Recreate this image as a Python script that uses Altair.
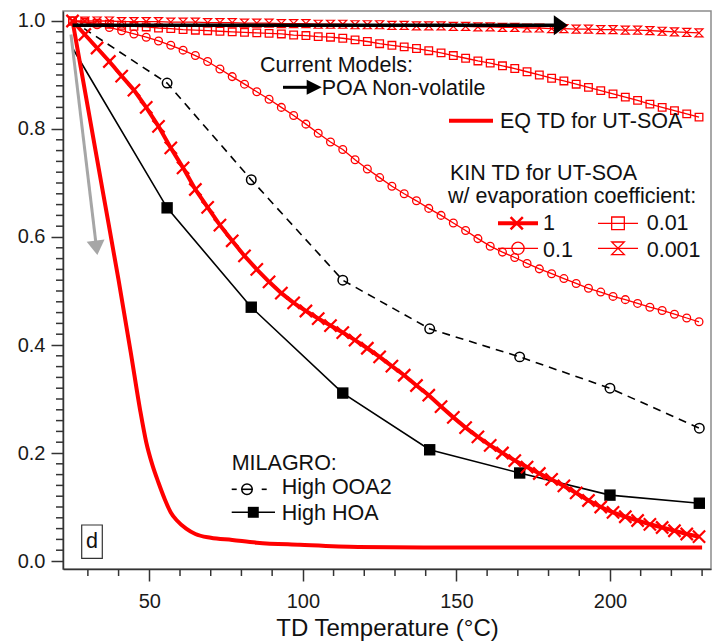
import altair as alt
import pandas as pd

# ---------------- data ----------------
kin_T = [25, 29, 33, 37, 41, 45, 49, 53, 57, 61, 65, 69, 73, 77, 81, 85, 89, 93, 97, 101,
         105, 109, 113, 117, 121, 125, 129, 133, 137, 141, 145, 149, 153, 157, 161, 165,
         169, 173, 177, 181, 185, 189, 193, 197, 201, 205, 209, 213, 217, 221, 225, 229]

kin_a1 = [1.0, 0.975, 0.95, 0.925, 0.898, 0.872, 0.84, 0.805, 0.765, 0.728, 0.688, 0.655,
          0.622, 0.593, 0.565, 0.54, 0.517, 0.496, 0.478, 0.463, 0.449, 0.436, 0.423, 0.409,
          0.394, 0.378, 0.361, 0.344, 0.325, 0.307, 0.286, 0.266, 0.247, 0.23, 0.214, 0.2,
          0.186, 0.174, 0.162, 0.151, 0.139, 0.126, 0.112, 0.1, 0.09, 0.082, 0.075, 0.068,
          0.062, 0.056, 0.05, 0.045]

kin_a01 = [1.0, 0.997, 0.993, 0.988, 0.982, 0.976, 0.97, 0.963, 0.955, 0.946, 0.936, 0.925,
           0.911, 0.897, 0.883, 0.869, 0.855, 0.84, 0.825, 0.809, 0.792, 0.776, 0.762, 0.743,
           0.726, 0.71, 0.694, 0.68, 0.667, 0.653, 0.64, 0.626, 0.612, 0.597, 0.583, 0.572,
           0.562, 0.551, 0.541, 0.532, 0.523, 0.514, 0.505, 0.498, 0.49, 0.484, 0.477, 0.47,
           0.464, 0.457, 0.45, 0.443]

kin_a001 = [1.0, 0.998, 0.996, 0.994, 0.992, 0.99, 0.989, 0.987, 0.986, 0.984, 0.983, 0.982,
            0.981, 0.98, 0.979, 0.978, 0.977, 0.976, 0.974, 0.973, 0.971, 0.97, 0.968, 0.965,
            0.962, 0.958, 0.955, 0.952, 0.949, 0.945, 0.941, 0.936, 0.931, 0.926, 0.922, 0.917,
            0.912, 0.906, 0.9, 0.894, 0.889, 0.883, 0.877, 0.871, 0.865, 0.859, 0.853, 0.846,
            0.84, 0.834, 0.828, 0.822]

kin_a0001 = [1.0, 1.0, 1.0, 1.0, 0.999, 0.999, 0.999, 0.999, 0.998, 0.998, 0.998, 0.997,
             0.997, 0.997, 0.996, 0.996, 0.996, 0.995, 0.995, 0.995, 0.994, 0.994, 0.994, 0.993,
             0.993, 0.993, 0.992, 0.992, 0.991, 0.991, 0.991, 0.99, 0.99, 0.989, 0.989, 0.988,
             0.988, 0.987, 0.987, 0.986, 0.986, 0.985, 0.985, 0.984, 0.984, 0.983, 0.983, 0.982,
             0.981, 0.98, 0.979, 0.978]

eq_T = [25, 30, 35, 40, 44, 47, 49, 51, 53, 55, 57, 59, 62, 65, 70, 77, 85, 99, 118, 150, 200, 230]
eq_y = [1.0, 0.84, 0.68, 0.52, 0.385, 0.28, 0.22, 0.178, 0.145, 0.115, 0.09, 0.075, 0.06,
        0.05, 0.043, 0.039, 0.034, 0.03, 0.026, 0.025, 0.025, 0.025]

mil_T = [25, 55.8, 83.2, 113.0, 141.3, 170.6, 200.0, 229.1]
ooa2_y = [1.0, 0.885, 0.706, 0.520, 0.430, 0.378, 0.320, 0.246]
hoa_y = [0.95, 0.654, 0.470, 0.311, 0.206, 0.163, 0.122, 0.107]

poa_T = [25, 184]
poa_y = [0.992, 0.992]
gray_T = [24.5, 32.8]
gray_y = [0.975, 0.58]

x_major = [50, 100, 150, 200]
x_minor = [30, 40, 60, 70, 80, 90, 110, 120, 130, 140, 160, 170, 180, 190, 210, 220, 230]
y_major = [0.0, 0.2, 0.4, 0.6, 0.8, 1.0]
y_minor = [round(0.02 * i, 2) for i in range(1, 50) if i % 10 != 0]

# ---------------- styling ----------------
FONT = "Liberation Sans"
RED = "#ff0000"
W, H = 648, 558
TS = 21.5

X_SHAPE = "M-1,-1L1,1M-1,1L1,-1"
HOURGLASS = "M-1,-1L1,-1L-1,1L1,1Z"
TRI_RIGHT = "M-1,-1L1,0L-1,1Z"
TRI_RIGHT_LONG = "M-0.7,-1L0.7,0L-0.7,1Z"
TRI_DOWN = "M-1,-0.8L1,-0.8L0,0.8Z"

xs = alt.Scale(domain=[21.9, 232.9], nice=False, zero=False)
ys = alt.Scale(domain=[-0.0148, 1.0185], nice=False, zero=False)
xaxis = alt.Axis(values=x_major, format="d", tickSize=12, labelPadding=10,
                 title="TD Temperature (°C)", titleY=66, titleBaseline="alphabetic")
yaxis = alt.Axis(values=y_major, format=".1f", tickSize=12, labelPadding=6, title="")
X = alt.X("x:Q", scale=xs, axis=xaxis)
Y = alt.Y("y:Q", scale=ys, axis=yaxis)

one = pd.DataFrame({"a": [1]})


def df(xv, yv):
    return pd.DataFrame({"x": xv, "y": yv})


def line(d, color, width, dash=None, interp="linear"):
    kw = dict(color=color, strokeWidth=width, interpolate=interp)
    if dash:
        kw["strokeDash"] = dash
    return alt.Chart(d).mark_line(**kw).encode(x=X, y=Y)


def pts(d, shape, size, color, filled=False, sw=1.5, angle=0):
    return alt.Chart(d).mark_point(shape=shape, size=size, filled=filled, color=color,
                                   strokeWidth=sw, opacity=1, angle=angle).encode(x=X, y=Y)


def text(t, px, py, size=TS, align="left"):
    return alt.Chart(one).mark_text(text=t, align=align, baseline="alphabetic", font=FONT,
                                    fontSize=size, color="#111").encode(
        x=alt.value(px), y=alt.value(py))


def seg(x1, x2, py, color, width):
    return alt.Chart(one).mark_rule(color=color, strokeWidth=width).encode(
        x=alt.value(x1), x2=alt.value(x2), y=alt.value(py))


def sym(px, py, shape, size, color, filled=False, sw=1.5):
    return alt.Chart(one).mark_point(shape=shape, size=size, filled=filled, color=color,
                                     strokeWidth=sw, opacity=1).encode(
        x=alt.value(px), y=alt.value(py))


d_a1 = df(kin_T, kin_a1)
d_a01 = df(kin_T, kin_a01)
d_a001 = df(kin_T, kin_a001)
d_a0001 = df(kin_T, kin_a0001)
d_eq = df(eq_T, eq_y)
d_ooa = df(mil_T, ooa2_y)
d_hoa = df(mil_T, hoa_y)
d_poa = df(poa_T, poa_y)
d_gray = df(gray_T, gray_y)

minor_x = alt.Chart(pd.DataFrame({"x": x_minor})).mark_rule(color="#333", strokeWidth=1.5).encode(
    x=X, y=alt.value(H), y2=alt.value(H + 7))
minor_y = alt.Chart(pd.DataFrame({"y": y_minor})).mark_rule(color="#333", strokeWidth=1.5).encode(
    y=Y, x=alt.value(-7), x2=alt.value(0))

layers = [
    minor_x, minor_y,
    line(d_ooa, "black", 1.6, dash=[8, 6]),
    pts(d_ooa.iloc[1:], "circle", 90, "black", sw=1.5),
    line(d_hoa, "black", 1.6),
    pts(d_hoa.iloc[1:], "square", 130, "black", filled=True),
    line(d_a0001, RED, 1.3),
    pts(d_a0001, HOURGLASS, 64, RED, sw=1.2),
    line(d_a001, RED, 1.3),
    pts(d_a001, "square", 58, RED, sw=1.3),
    line(d_a01, RED, 1.3),
    pts(d_a01, "circle", 60, RED, sw=1.3),
    line(d_a1, RED, 4),
    pts(d_a1, X_SHAPE, 150, RED, sw=2.2),
    line(d_eq, RED, 4, interp="monotone"),
    # gray arrow
    line(d_gray.iloc[[0, 1]], "#a6a6a6", 3),
    pts(d_gray.iloc[[1]], TRI_DOWN, 324, "#a6a6a6", filled=True, angle=353),
    # black POA arrow
    line(d_poa, "black", 3.5),
    pts(d_poa.iloc[[1]], TRI_RIGHT_LONG, 400, "black", filled=True),
    # annotations / legend
    text("Current Models:", 197, 61),
    seg(220, 251, 76.3, "black", 3),
    sym(251.2, 76.3, TRI_RIGHT, 225, "black", filled=True),
    text("POA Non-volatile", 258.7, 84),
    seg(386, 430, 109.7, RED, 4),
    text("EQ TD for UT-SOA", 437, 116.7),
    text("KIN TD for UT-SOA", 387, 169),
    text("w/ evaporation coefficient:", 385, 192.3),
    seg(435, 475, 212.3, RED, 4),
    sym(453.7, 212.3, X_SHAPE, 150, RED, sw=2.5),
    text("1", 480, 219),
    seg(535, 575, 212.3, RED, 1.3),
    sym(555, 212.3, "square", 160, RED, sw=1.3),
    text("0.01", 583.7, 219),
    seg(435, 475, 237.3, RED, 1.3),
    sym(455, 237.3, "circle", 150, RED, sw=1.3),
    text("0.1", 480, 245.7),
    seg(535, 575, 237.3, RED, 1.3),
    sym(555, 237.3, HOURGLASS, 160, RED, sw=1.3),
    text("0.001", 583.7, 245.7),
    text("MILAGRO:", 168.7, 459),
    seg(168.7, 173.7, 478.3, "black", 1.6),
    seg(178.5, 189.5, 478.3, "black", 1.6),
    seg(198.7, 203.7, 478.3, "black", 1.6),
    sym(184, 478.3, "circle", 110, "black", sw=1.5),
    text("High OOA2", 218.7, 483),
    seg(168.7, 212, 501.3, "black", 1.6),
    sym(190.3, 501.3, "square", 120, "black", filled=True),
    text("High HOA", 218.7, 509),
    alt.Chart(one).mark_rect(fill="white", stroke="#333", strokeWidth=1.2).encode(
        x=alt.value(18.7), x2=alt.value(39.3), y=alt.value(514), y2=alt.value(547.3)),
    text("d", 29, 537.3, size=TS, align="center"),
]

chart = alt.layer(*layers).properties(
    width=W, height=H,
    autosize=alt.AutoSizeParams(type="none"),
    padding={"left": 63, "top": 11, "right": 1, "bottom": 72},
).configure_view(
    stroke="#8c8c8c", strokeWidth=1.5
).configure_axis(
    labelFont=FONT, labelFontSize=20, labelColor="#1a1a1a",
    titleFont=FONT, titleFontSize=24, titleFontWeight="normal", titleColor="#111",
    domainColor="#333", tickColor="#333", domainWidth=1.5, tickWidth=1.5, grid=False,
)

chart.save("out.html", embed_options={"renderer": "svg", "actions": False})
